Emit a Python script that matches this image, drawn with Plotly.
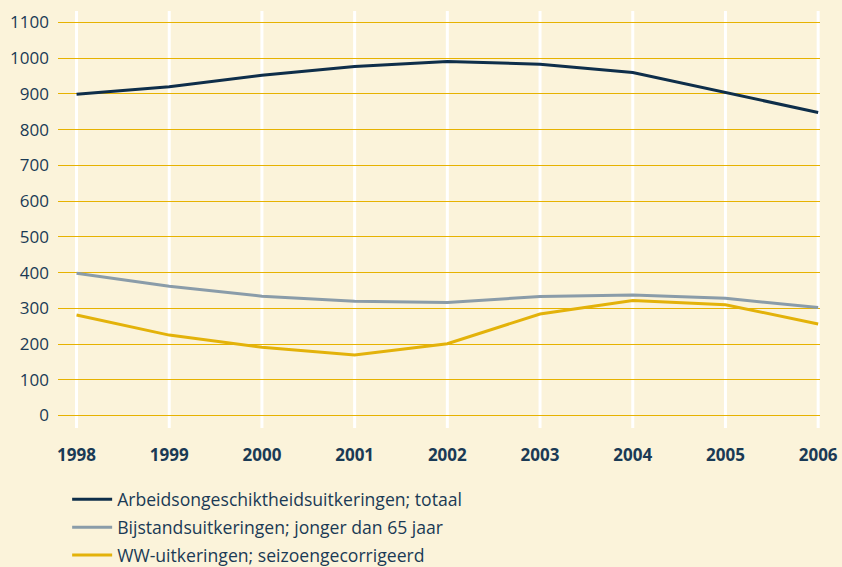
import plotly.graph_objects as go

years = [1998, 1999, 2000, 2001, 2002, 2003, 2004, 2005, 2006]
ao_totaal = [899, 920, 952, 977, 991, 983, 960, 903, 848]
bijstand = [398, 362, 334, 320, 316, 333, 337, 328, 302]
ww = [281, 225, 191, 169, 201, 284, 322, 310, 256]
y_ticks = [0, 100, 200, 300, 400, 500, 600, 700, 800, 900, 1000, 1100]

names = [
    "Arbeidsongeschiktheidsuitkeringen; totaal",
    "Bijstandsuitkeringen; jonger dan 65 jaar",
    "WW-uitkeringen; seizoengecorrigeerd",
]
colors = ["#0E2E4A", "#8A9CA9", "#E3B20A"]
BG = "#FBF3DA"
TXT = "#1A3A55"
FONT = "Open Sans"

fig = go.Figure()
for i, (name, vals, col) in enumerate(zip(names, [ao_totaal, bijstand, ww], colors)):
    fig.add_trace(go.Scatter(x=years, y=vals, mode="lines", name=name,
                             legendgroup=f"g{i}",
                             line=dict(color=col, width=3)))

for yr in years:
    fig.add_shape(type="line", xref="x", yref="paper", x0=yr, x1=yr, y0=0, y1=1,
                  line=dict(color="white", width=3), layer="between")

fig.update_layout(
    width=842, height=567,
    paper_bgcolor=BG, plot_bgcolor=BG,
    margin=dict(l=58, r=22, t=11, b=139),
    font=dict(family=FONT, size=17, color=TXT),
    showlegend=True,
    legend=dict(x=0.012, y=0.151, xanchor="left", yanchor="top",
                yref="container",
                bgcolor="rgba(0,0,0,0)", font=dict(size=17.6, color=TXT),
                itemwidth=40, tracegroupgap=2),
)
fig.update_xaxes(range=[1997.8, 2006.02], tickvals=years,
                 ticktext=[str(y) for y in years], showgrid=False,
                 zeroline=False, showline=False, ticks="", automargin=False,
                 tickfont=dict(family=FONT, size=17, color=TXT, weight="bold"),
                 ticklabelstandoff=15)
fig.update_yaxes(range=[-35, 1132], tickvals=y_ticks, showgrid=True,
                 gridcolor="#E6B200", gridwidth=1, zeroline=False,
                 showline=False, ticks="", automargin=False,
                 tickfont=dict(family=FONT, size=17, color=TXT),
                 ticklabelstandoff=8)

fig.write_html("out.html", config={"displayModeBar": False},
               post_script="document.body.style.margin='0';document.body.style.overflow='hidden';")
